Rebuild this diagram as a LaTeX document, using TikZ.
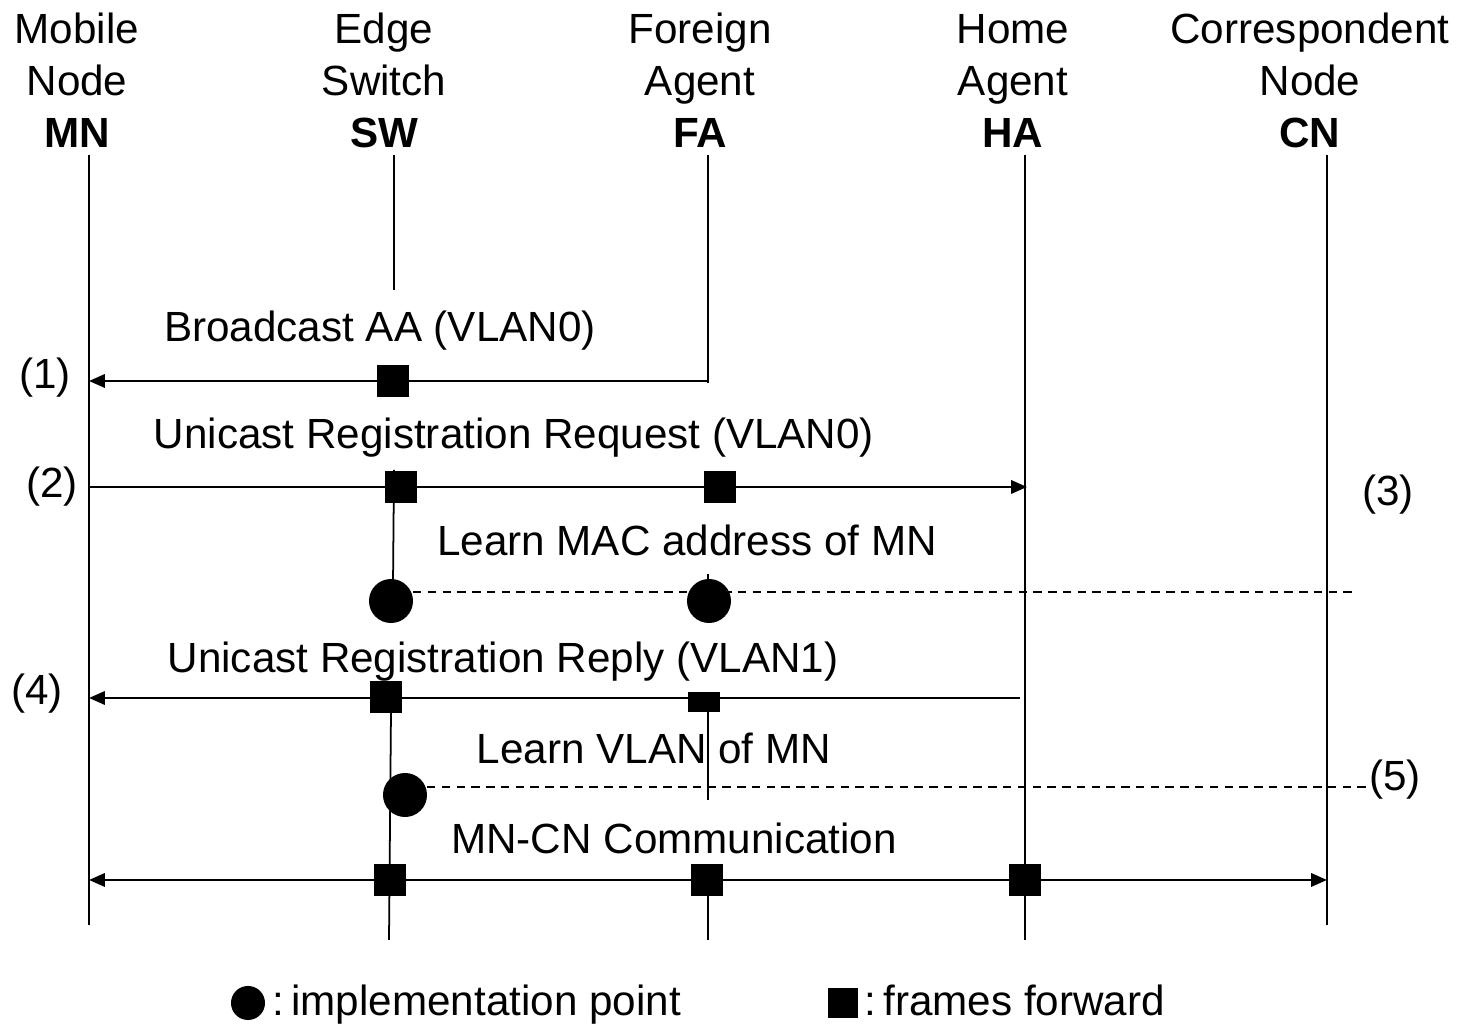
\documentclass[tikz,border=0pt]{standalone}
\usepackage{fontspec}
\setmainfont{Liberation Sans}
\usetikzlibrary{arrows.meta}

\begin{document}
\begin{tikzpicture}[x=0.01cm,y=-0.01cm,
  lbl/.style={font=\fontsize{12pt}{14.8pt}\selectfont, inner sep=0pt},
  head/.style={lbl, align=center, anchor=north},
  life/.style={line width=0.5pt},
  msg/.style={line width=0.6pt},
  tipend/.style={-{Triangle[length=4.5pt,width=3.8pt]}},
  tipboth/.style={{Triangle[length=4.5pt,width=3.8pt]}-{Triangle[length=4.5pt,width=3.8pt]}},
  dashline/.style={line width=0.5pt, dash pattern=on 2.4pt off 1.8pt},
  fwd/.style={rectangle, fill=black, minimum width=0.32cm, minimum height=0.32cm, inner sep=0pt},
  fwdflat/.style={fwd, minimum height=0.2cm},
  impl/.style={circle, fill=black, minimum size=0.44cm, inner sep=0pt}]

\useasboundingbox (0,0) rectangle (1462,1025);

% entity headers (a strut on the first line keeps all headers level)
\newcommand\hstrut{\rule{0pt}{1em}}
\node[head] (mn) at (77,1)   {\hstrut Mobile\\Node\\\textbf{MN}};
\node[head] (sw) at (384,1)  {\hstrut Edge\\Switch\\\textbf{SW}};
\node[head] (fa) at (700,1)  {\hstrut Foreign\\Agent\\\textbf{FA}};
\node[head] (ha) at (1013,1) {\hstrut Home\\Agent\\\textbf{HA}};
\node[head] (cn) at (1310,1) {\hstrut Correspondent\\Node\\\textbf{CN}};

% lifeline end points
\coordinate (mnT) at (89,155);   \coordinate (mnB) at (89,925);
\coordinate (swT) at (394,155);  \coordinate (swM) at (394,290);
\coordinate (faT) at (708,155);  \coordinate (faB) at (708,383);
\coordinate (haT) at (1025,155); \coordinate (haB) at (1025,940);
\coordinate (cnT) at (1327,155); \coordinate (cnB) at (1327,925);

% message end points on the lifelines
\coordinate (m1s) at (708,381);  \coordinate (m1e) at (89,381);
\coordinate (m2s) at (89,487);   \coordinate (m2e) at (1027,487);
\coordinate (m4s) at (1020,698); \coordinate (m4e) at (89,698);
\coordinate (m6s) at (89,880);   \coordinate (m6e) at (1327,880);
\coordinate (d3s) at (413,592);  \coordinate (d3e) at (1352,592);
\coordinate (d5s) at (427,787);  \coordinate (d5e) at (1367,787);

% lifelines
\draw[life] (mnT) -- (mnB);
\draw[life] (swT) -- (swM);
\draw[life] (393,365) -- (393,378);
\draw[life] (394,470) -- (393,585);
\draw[life] (391,712) -- (389,940);
\draw[life] (haT) -- (haB);
\draw[life] (cnT) -- (cnB);
\draw[life] (faT) -- (faB);
\draw[life] (708,574) -- (708,590);
\draw[life] (708,712) -- (708,800);
\draw[life] (708,880) -- (708,940);

% messages
\draw[msg,tipend] (m1s) -- (m1e);
\draw[msg,tipend] (m2s) -- (m2e);
\draw[msg,tipend] (m4s) -- (m4e);
\draw[msg,tipboth] (m6s) -- (m6e);

% dashed learning lines, implementation points on top
\draw[dashline] (d3s) -- (d3e);
\draw[dashline] (d5s) -- (d5e);
\node[impl] (c1) at (391,601) {};
\node[impl] (c2) at (709,601) {};
\node[impl] (c3) at (405,795) {};

% forwarded frames
\node[fwd] (q1) at (393,381) {};
\node[fwd] (q2) at (401,487) {};
\node[fwd] (q3) at (720,487) {};
\node[fwd] (q4) at (386,697) {};
\node[fwdflat] (q5) at (704,702) {};
\node[fwd] (q6) at (390,880) {};
\node[fwd] (q7) at (707,880) {};
\node[fwd] (q8) at (1025,880) {};

% message labels
\node[lbl] (t1) at (380,331) {Broadcast AA (VLAN0)};
\node[lbl] (t2) at (514,438) {Unicast Registration Request (VLAN0)};
\node[lbl] (t3) at (687,540) {Learn MAC address of MN};
\node[lbl] (t4) at (503,662) {Unicast Registration Reply (VLAN1)};
\node[lbl] (t5) at (654,748) {Learn VLAN of MN};
\node[lbl] (t6) at (674,838) {MN-CN Communication};

% step numbers
\node[lbl] (s1) at (45,378)   {(1)};
\node[lbl] (s2) at (52,487)   {(2)};
\node[lbl] (s3) at (1388,495) {(3)};
\node[lbl] (s4) at (37,694)   {(4)};
\node[lbl] (s5) at (1395,780) {(5)};

% legend
\node[impl, minimum size=0.34cm] (lc) at (248,1003) {};
\node[lbl, anchor=base west] (lct) at (272,1016) {:\,implementation point};
\node[fwd, minimum size=0.3cm] (lq) at (843,1003) {};
\node[lbl, anchor=base west] (lqt) at (864,1016) {:\,frames forward};
\end{tikzpicture}
\end{document}
